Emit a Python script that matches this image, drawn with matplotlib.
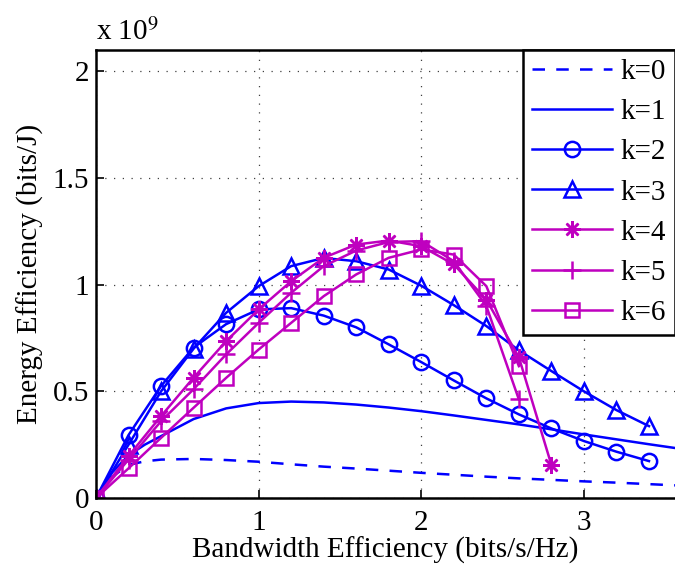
import numpy as np
import matplotlib.pyplot as plt

# Werte in Einheiten von 10^9 bits/J
x_dense = [0.0, 0.1, 0.2, 0.3, 0.4, 0.6, 0.8, 1.0, 1.2, 1.4, 1.6, 1.8, 2.0,
           2.2, 2.4, 2.6, 2.8, 3.0, 3.2, 3.4, 3.6]
ee_k0 = [0.0, 0.10, 0.155, 0.172, 0.180, 0.183, 0.178, 0.170, 0.158, 0.147,
         0.138, 0.128, 0.118, 0.109, 0.100, 0.092, 0.085, 0.078, 0.072, 0.065, 0.058]
ee_k1 = [0.0, 0.12, 0.20, 0.25, 0.29, 0.37, 0.42, 0.445, 0.452, 0.448,
         0.438, 0.424, 0.407, 0.387, 0.366, 0.345, 0.322, 0.298, 0.275, 0.252, 0.230]

x_k2 = [0.0, 0.2, 0.4, 0.6, 0.8, 1.0, 1.2, 1.4, 1.6, 1.8, 2.0, 2.2, 2.4,
        2.6, 2.8, 3.0, 3.2, 3.4]
ee_k2 = [0.0, 0.295, 0.525, 0.705, 0.815, 0.884, 0.89, 0.855, 0.80, 0.72,
         0.637, 0.551, 0.467, 0.392, 0.326, 0.267, 0.217, 0.173]
x_k3 = x_k2
ee_k3 = [0.0, 0.25, 0.50, 0.70, 0.868, 0.993, 1.087, 1.125, 1.11, 1.071,
         0.995, 0.904, 0.806, 0.692, 0.595, 0.50, 0.412, 0.337]
x_k4 = [0.0, 0.2, 0.4, 0.6, 0.8, 1.0, 1.2, 1.4, 1.6, 1.8, 2.0, 2.2, 2.4, 2.6, 2.8]
ee_k4 = [0.0, 0.197, 0.384, 0.564, 0.735, 0.884, 1.016, 1.126, 1.188, 1.207,
         1.18, 1.095, 0.93, 0.66, 0.155]
x_k5 = [0.0, 0.2, 0.4, 0.6, 0.8, 1.0, 1.2, 1.4, 1.6, 1.8, 2.0, 2.2, 2.4, 2.6]
ee_k5 = [0.0, 0.18, 0.36, 0.51, 0.673, 0.821, 0.962, 1.087, 1.16, 1.20,
         1.204, 1.11, 0.90, 0.462]
x_k6 = x_k5
ee_k6 = [0.0, 0.139, 0.282, 0.423, 0.563, 0.696, 0.821, 0.946, 1.048, 1.126,
         1.165, 1.141, 0.993, 0.618]

blau = '#0000ff'
magenta = '#bf00bf'

plt.rcParams['font.family'] = ['Liberation Serif', 'DejaVu Serif']
plt.rcParams['font.size'] = 21
plt.rcParams['mathtext.fontset'] = 'stix'

fig = plt.figure(figsize=(6.75, 5.74), dpi=100)
ax = fig.add_axes([96 / 675, 76 / 574, 1 - 96 / 675, 448 / 574])

lw = 1.8
ms = 11
ax.plot(x_dense, ee_k0, '--', color=blau, lw=lw, dashes=(5, 4.5), label='k=0')
ax.plot(x_dense, ee_k1, '-', color=blau, lw=lw, label='k=1')
ax.plot(x_k2, ee_k2, '-o', color=blau, lw=lw, ms=ms, mfc='none', mew=lw, label='k=2')
ax.plot(x_k3, ee_k3, '-^', color=blau, lw=lw, ms=ms + 1, mfc='none', mew=lw, label='k=3')
ax.plot(x_k4, ee_k4, '-', marker=(8, 2, 0), color=magenta, lw=lw, ms=ms + 1,
        mew=lw, label='k=4')
ax.plot(x_k5, ee_k5, '-+', color=magenta, lw=lw, ms=ms + 2, mew=lw, label='k=5')
ax.plot(x_k6, ee_k6, '-s', color=magenta, lw=lw, ms=ms - 1, mfc='none', mew=lw, label='k=6')

ax.set_xlim(0, 3.56)
ax.set_ylim(0, 2.1)
ax.set_xticks([0, 1, 2, 3])
ax.set_xticklabels(['0', '1', '2', '3'])
ax.set_yticks([0, 0.5, 1, 1.5, 2])
ax.set_yticklabels(['0', '0.5', '1', '1.5', '2'])
ax.tick_params(direction='in', length=6, width=1.2, top=False, right=False)
ax.tick_params(axis='x', pad=9)
ax.tick_params(axis='y', pad=5)
ax.grid(True, linestyle=(0, (1, 6)), color='#404040', lw=0.9)
for s in ['left', 'bottom', 'top']:
    ax.spines[s].set_linewidth(1.8)
ax.spines['right'].set_visible(False)

ax.set_xlabel('Bandwidth Efficiency (bits/s/Hz)', labelpad=0)
ax.set_ylabel('Energy Efficiency (bits/J)', labelpad=6)
ax.text(0.0, 1.01, 'x 10$^{9}$', transform=ax.transAxes, ha='left', va='bottom')

leg = ax.legend(loc='upper right', bbox_to_anchor=(1.0, 1.0), borderaxespad=0,
                fancybox=False, framealpha=1, edgecolor='black',
                handlelength=2.75, handletextpad=0.3, labelspacing=0.47,
                borderpad=0.3)
leg.get_frame().set_linewidth(1.8)

fig.savefig('out.png', dpi=100)
